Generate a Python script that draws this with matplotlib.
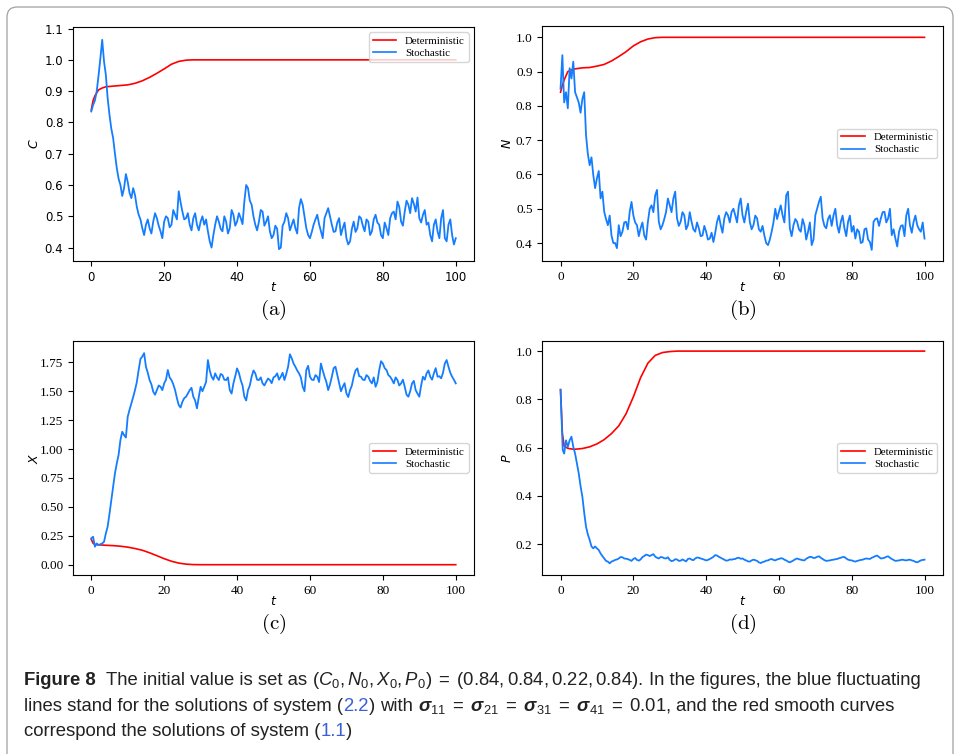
import matplotlib
matplotlib.use('Agg')
import matplotlib.pyplot as plt
from matplotlib.patches import FancyBboxPatch
from matplotlib.transforms import IdentityTransform

# deterministic solutions (system 1.1)
t_det = [0, 0.5, 1, 2, 3, 4, 6, 8, 10, 12, 14, 16, 18, 20, 22, 24, 26, 28, 30, 32, 40, 60, 80, 100]
C_det = [0.84, 0.87, 0.885, 0.904, 0.91, 0.914, 0.916, 0.918, 0.92, 0.925, 0.933, 0.944,
         0.957, 0.971, 0.986, 0.995, 0.999, 1.0, 1.0, 1.0, 1.0, 1.0, 1.0, 1.0]
N_det = [0.84, 0.86, 0.876, 0.90, 0.905, 0.908, 0.911, 0.912, 0.916, 0.921, 0.931, 0.944,
         0.958, 0.975, 0.987, 0.995, 0.999, 1.0, 1.0, 1.0, 1.0, 1.0, 1.0, 1.0]
X_det = [0.22, 0.185, 0.175, 0.172, 0.17, 0.168, 0.165, 0.16, 0.152, 0.14, 0.125, 0.103,
         0.078, 0.052, 0.03, 0.014, 0.005, 0.001, 0.0, 0.0, 0.0, 0.0, 0.0, 0.0]
P_det = [0.84, 0.66, 0.605, 0.597, 0.594, 0.593, 0.596, 0.603, 0.615, 0.633, 0.658, 0.69,
         0.74, 0.81, 0.89, 0.95, 0.982, 0.994, 0.998, 1.0, 1.0, 1.0, 1.0, 1.0]

# stochastic solutions (system 2.2): first seconds, then whole and half time steps
t_C_early = [0, 0.5, 1, 1.5, 2, 2.5, 3, 3.5, 4, 4.5]
C_early = [0.835, 0.856, 0.87, 0.90, 0.95, 1.005, 1.064, 0.995, 0.952, 0.877]
C_whole = [0.824, 0.75, 0.654, 0.60, 0.59, 0.61, 0.558, 0.568, 0.505, 0.462,
           0.473, 0.462, 0.483, 0.494, 0.452, 0.483, 0.494, 0.473, 0.505, 0.58,
           0.515, 0.494, 0.473, 0.494, 0.473, 0.483, 0.473, 0.452, 0.40, 0.473,
           0.483, 0.452, 0.483, 0.462, 0.505, 0.483, 0.494, 0.547, 0.59, 0.537,
           0.473, 0.483, 0.515, 0.483, 0.452, 0.44, 0.46, 0.40, 0.483, 0.494,
           0.473, 0.462, 0.526, 0.537, 0.462, 0.43, 0.473, 0.505, 0.452, 0.494,
           0.526, 0.473, 0.452, 0.494, 0.462, 0.43, 0.42, 0.483, 0.462, 0.494,
           0.452, 0.483, 0.452, 0.505, 0.473, 0.43, 0.462, 0.494, 0.515, 0.547,
           0.483, 0.515, 0.537, 0.558, 0.515, 0.494, 0.505, 0.473, 0.44, 0.473,
           0.452, 0.494, 0.43, 0.473, 0.44, 0.43]
C_half = [0.78, 0.70, 0.62, 0.565, 0.635, 0.575, 0.59, 0.53, 0.49, 0.44,
          0.49, 0.445, 0.51, 0.47, 0.43, 0.50, 0.465, 0.52, 0.49, 0.545,
          0.49, 0.51, 0.455, 0.51, 0.455, 0.50, 0.49, 0.42, 0.44, 0.50,
          0.46, 0.50, 0.445, 0.52, 0.47, 0.51, 0.475, 0.60, 0.55, 0.50,
          0.455, 0.52, 0.47, 0.50, 0.43, 0.47, 0.395, 0.47, 0.51, 0.455,
          0.49, 0.445, 0.555, 0.50, 0.44, 0.45, 0.49, 0.475, 0.43, 0.51,
          0.50, 0.45, 0.48, 0.44, 0.48, 0.41, 0.46, 0.45, 0.50, 0.47,
          0.49, 0.44, 0.49, 0.48, 0.44, 0.48, 0.44, 0.51, 0.49, 0.53,
          0.47, 0.55, 0.51, 0.54, 0.56, 0.48, 0.52, 0.48, 0.42, 0.49,
          0.43, 0.52, 0.42, 0.49, 0.41]

t_N_early = [0, 0.5, 1, 1.5, 2, 2.5, 3, 3.5, 4]
N_early = [0.85, 0.948, 0.81, 0.84, 0.793, 0.91, 0.88, 0.929, 0.84]
N_whole = [0.81, 0.82, 0.715, 0.627, 0.598, 0.589, 0.53, 0.491, 0.452, 0.422,
           0.40, 0.452, 0.433, 0.462, 0.491, 0.481, 0.452, 0.443, 0.422, 0.462,
           0.51, 0.539, 0.462, 0.452, 0.491, 0.51, 0.53, 0.472, 0.462, 0.481,
           0.452, 0.462, 0.433, 0.443, 0.422, 0.433, 0.413, 0.403, 0.462, 0.452,
           0.472, 0.481, 0.491, 0.481, 0.51, 0.481, 0.491, 0.462, 0.452, 0.472,
           0.433, 0.422, 0.394, 0.433, 0.50, 0.491, 0.481, 0.539, 0.443, 0.452,
           0.462, 0.433, 0.452, 0.433, 0.394, 0.481, 0.52, 0.472, 0.443, 0.481,
           0.481, 0.452, 0.462, 0.443, 0.462, 0.433, 0.413, 0.433, 0.403, 0.443,
           0.403, 0.462, 0.472, 0.472, 0.491, 0.472, 0.423, 0.413, 0.433, 0.452,
           0.481, 0.452, 0.462, 0.452, 0.433, 0.413]
N_half = [0.78, 0.84, 0.66, 0.65, 0.56, 0.61, 0.55, 0.47, 0.48, 0.40,
          0.385, 0.42, 0.46, 0.44, 0.52, 0.46, 0.42, 0.46, 0.41, 0.50,
          0.49, 0.555, 0.44, 0.47, 0.53, 0.49, 0.55, 0.45, 0.49, 0.44,
          0.49, 0.44, 0.46, 0.42, 0.45, 0.41, 0.43, 0.43, 0.48, 0.43,
          0.49, 0.46, 0.50, 0.46, 0.53, 0.46, 0.515, 0.44, 0.48, 0.44,
          0.45, 0.40, 0.41, 0.46, 0.47, 0.51, 0.46, 0.55, 0.42, 0.47,
          0.44, 0.47, 0.41, 0.46, 0.41, 0.50, 0.535, 0.45, 0.47, 0.45,
          0.50, 0.43, 0.48, 0.42, 0.48, 0.45, 0.44, 0.40, 0.44, 0.41,
          0.38, 0.47, 0.45, 0.49, 0.46, 0.50, 0.44, 0.39, 0.45, 0.42,
          0.50, 0.43, 0.48, 0.44, 0.46]

t_X_early = [0, 0.5, 1, 1.5, 2, 3, 3.5]
X_early = [0.228, 0.242, 0.156, 0.184, 0.17, 0.184, 0.198]
X_whole = [0.27, 0.44, 0.675, 0.876, 1.078, 1.121, 1.28, 1.395, 1.51, 1.684,
           1.80, 1.712, 1.597, 1.496, 1.51, 1.539, 1.568, 1.684, 1.597, 1.51,
           1.38, 1.409, 1.453, 1.51, 1.453, 1.352, 1.539, 1.539, 1.77, 1.626,
           1.655, 1.597, 1.64, 1.597, 1.51, 1.568, 1.698, 1.597, 1.453, 1.51,
           1.626, 1.655, 1.597, 1.568, 1.583, 1.597, 1.62, 1.655, 1.626, 1.597,
           1.712, 1.785, 1.712, 1.655, 1.539, 1.684, 1.626, 1.597, 1.626, 1.74,
           1.626, 1.51, 1.626, 1.712, 1.568, 1.539, 1.482, 1.51, 1.626, 1.698,
           1.626, 1.597, 1.626, 1.568, 1.539, 1.684, 1.74, 1.684, 1.626, 1.568,
           1.597, 1.568, 1.539, 1.453, 1.568, 1.51, 1.453, 1.626, 1.655, 1.626,
           1.655, 1.626, 1.612, 1.74, 1.712, 1.626, 1.568]
X_half = [0.33, 0.56, 0.79, 0.95, 1.15, 1.10, 1.34, 1.45, 1.58, 1.78,
          1.83, 1.66, 1.56, 1.47, 1.55, 1.51, 1.60, 1.62, 1.56, 1.44,
          1.36, 1.44, 1.48, 1.53, 1.42, 1.45, 1.50, 1.58, 1.68, 1.60,
          1.62, 1.65, 1.60, 1.62, 1.48, 1.63, 1.66, 1.55, 1.42, 1.55,
          1.68, 1.60, 1.62, 1.55, 1.61, 1.57, 1.63, 1.60, 1.66, 1.65,
          1.82, 1.74, 1.68, 1.62, 1.50, 1.72, 1.60, 1.64, 1.58, 1.68,
          1.58, 1.56, 1.70, 1.64, 1.50, 1.57, 1.45, 1.55, 1.68, 1.63,
          1.60, 1.64, 1.59, 1.62, 1.58, 1.76, 1.70, 1.64, 1.60, 1.62,
          1.55, 1.60, 1.47, 1.50, 1.59, 1.48, 1.55, 1.60, 1.68, 1.60,
          1.70, 1.63, 1.66, 1.77, 1.66, 1.60]

t_P_early = [0, 0.3, 0.6, 1, 1.5, 2, 2.5, 3, 3.5, 4]
P_early = [0.84, 0.72, 0.59, 0.575, 0.63, 0.603, 0.63, 0.645, 0.603, 0.575]
P_whole = [0.493, 0.396, 0.272, 0.217, 0.182, 0.182, 0.161, 0.14, 0.127, 0.127,
           0.134, 0.14, 0.145, 0.139, 0.134, 0.138, 0.134, 0.136, 0.15, 0.154,
           0.154, 0.148, 0.14, 0.145, 0.14, 0.134, 0.131, 0.136, 0.131, 0.132,
           0.138, 0.135, 0.14, 0.143, 0.138, 0.132, 0.138, 0.147, 0.152, 0.143,
           0.135, 0.132, 0.135, 0.138, 0.143, 0.14, 0.132, 0.127, 0.135, 0.13,
           0.121, 0.127, 0.132, 0.138, 0.132, 0.138, 0.14, 0.132, 0.124, 0.132,
           0.14, 0.135, 0.132, 0.143, 0.146, 0.143, 0.149, 0.138, 0.13, 0.132,
           0.135, 0.138, 0.143, 0.146, 0.135, 0.132, 0.127, 0.132, 0.135, 0.14,
           0.138, 0.146, 0.152, 0.14, 0.143, 0.149, 0.138, 0.13, 0.132, 0.135,
           0.132, 0.135, 0.13, 0.124, 0.132, 0.135]
P_half = [0.44, 0.33, 0.24, 0.19, 0.19, 0.175, 0.15, 0.13, 0.12, 0.13,
          0.136, 0.146, 0.14, 0.137, 0.13, 0.142, 0.131, 0.146, 0.156, 0.15,
          0.158, 0.143, 0.146, 0.141, 0.145, 0.129, 0.137, 0.13, 0.136, 0.128,
          0.14, 0.133, 0.144, 0.14, 0.135, 0.134, 0.142, 0.154, 0.147, 0.139,
          0.131, 0.136, 0.137, 0.142, 0.139, 0.135, 0.128, 0.132, 0.133, 0.124,
          0.125, 0.131, 0.136, 0.134, 0.136, 0.141, 0.135, 0.127, 0.128, 0.137,
          0.137, 0.133, 0.139, 0.147, 0.142, 0.147, 0.143, 0.133, 0.131, 0.134,
          0.137, 0.141, 0.146, 0.14, 0.133, 0.129, 0.13, 0.134, 0.138, 0.139,
          0.143, 0.15, 0.146, 0.141, 0.147, 0.143, 0.134, 0.131, 0.134, 0.133,
          0.134, 0.132, 0.126, 0.128, 0.134]

x_ticks = [0, 20, 40, 60, 80, 100]


def path(t_early, v_early, start, whole, half):
    # put the early samples, whole steps and half steps in time order
    t = list(t_early) + list(range(start, 101)) + [k + 0.5 for k in range(start, 100)]
    v = list(v_early) + list(whole) + list(half)
    order = sorted(range(len(t)), key=lambda i: t[i])
    return [t[i] for i in order], [v[i] for i in order]


RED = '#ff0000'
BLUE = '#147dff'
SERIF = 'Liberation Serif'
CAP_FONT = ['Liberation Sans', 'DejaVu Sans']

plt.rcParams['mathtext.fontset'] = 'custom'
plt.rcParams['mathtext.rm'] = 'Liberation Sans'
plt.rcParams['mathtext.it'] = 'Liberation Sans:italic'
plt.rcParams['mathtext.bf'] = 'Liberation Sans:italic:bold'

fig = plt.figure(figsize=(9.56, 7.54), dpi=100)

# rounded frame round the whole figure
frame = FancyBboxPatch((7, -20), 946, 754 - 7 + 20, boxstyle='round,pad=0,rounding_size=10',
                       transform=IdentityTransform(), facecolor='none',
                       edgecolor='#a0a0a0', linewidth=0.9)
fig.patches.append(frame)

panels = [
    # rect, stochastic path, deterministic, ylabel, ylim, yticks, fmt, legend loc, tag, sans ticks
    ([0.0764, 0.6538, 0.4194, 0.3104], path(t_C_early, C_early, 5, C_whole, C_half), C_det,
     'C', (0.357, 1.105), [0.4, 0.5, 0.6, 0.7, 0.8, 0.9, 1.0, 1.1], '{:.1f}',
     'upper right', '(a)', True),
    ([0.5673, 0.6538, 0.4188, 0.3117], path(t_N_early, N_early, 5, N_whole, N_half), N_det,
     'N', (0.3475, 1.033), [0.4, 0.5, 0.6, 0.7, 0.8, 0.9, 1.0], '{:.1f}',
     'center right', '(b)', False),
    ([0.0764, 0.2374, 0.4194, 0.3107], path(t_X_early, X_early, 4, X_whole, X_half), X_det,
     'X', (-0.089, 1.937), [0.0, 0.25, 0.5, 0.75, 1.0, 1.25, 1.5, 1.75], '{:.2f}',
     'center right', '(c)', False),
    ([0.5673, 0.2374, 0.4188, 0.3107], path(t_P_early, P_early, 5, P_whole, P_half), P_det,
     'P', (0.0715, 1.043), [0.2, 0.4, 0.6, 0.8, 1.0], '{:.1f}',
     'center right', '(d)', False),
]

for rect, (ts, ys), yd, lab, ylim, yticks, fmt, loc, tag, sans in panels:
    ax = fig.add_axes(rect)
    ax.plot(t_det, yd, color=RED, lw=1.2, label='Deterministic')
    ax.plot(ts, ys, color=BLUE, lw=1.3, label='Stochastic')
    ax.set_xlim(-5, 105)
    ax.set_ylim(*ylim)
    ax.set_xticks(x_ticks)
    ax.set_yticks(yticks)
    tick_font = dict(family='DejaVu Sans', size=8.5) if sans else dict(family=SERIF, size=9.5)
    ax.set_xticklabels([str(v) for v in x_ticks], fontdict=tick_font)
    ax.set_yticklabels([fmt.format(v) for v in yticks], fontdict=tick_font)
    ax.set_xlabel('$t$', fontsize=9, math_fontfamily='dejavusans')
    ax.set_ylabel('$' + lab + '$', fontsize=9, math_fontfamily='dejavusans')
    ax.xaxis.set_label_coords(0.5, -0.085)
    ax.yaxis.set_label_coords(-0.08 if rect[0] < 0.5 else -0.071, 0.5)
    leg = ax.legend(loc=loc, prop=dict(family=SERIF, size=7.8), labelspacing=0.25,
                    borderpad=0.35, handlelength=2.2)
    for h in leg.get_lines():
        h.set_linewidth(1.2)
    x0 = rect[0] + rect[2] * 55 / 110
    fig.text(x0, rect[1] - 0.065, r'$\mathrm{' + tag + '}$', ha='center', va='center',
             fontsize=15, math_fontfamily='cm')

# caption, written run by run so the bold title and links keep their own style
renderer = fig.canvas.get_renderer()
CAP_SIZE = 13.3
space = fig.text(0, 0, 'a a', fontsize=CAP_SIZE, family=CAP_FONT)
solid = fig.text(0, 0, 'aa', fontsize=CAP_SIZE, family=CAP_FONT)
gap = space.get_window_extent(renderer).width - solid.get_window_extent(renderer).width
space.remove()
solid.remove()

LINK = '#3a5fd9'
lines = [
    (685, [('Figure 8', dict(weight='bold')), 'sp2',
           ('The initial value is set as', {}), 'sp',
           (r'$(C_0,N_0,X_0,P_0)\;=\;(0.84,0.84,0.22,0.84).$', {}), 'sp',
           ('In the figures, the blue fluctuating', {})]),
    (711, [('lines stand for the solutions of system (', {}), ('2.2', dict(color=LINK)),
           (')', {}), 'sp', ('with', {}), 'sp',
           (r'$\mathbf{\sigma}_{11}\;=\;\mathbf{\sigma}_{21}\;=\;\mathbf{\sigma}_{31}\;=\;'
            r'\mathbf{\sigma}_{41}\;=\;0.01,$', {}), 'sp',
           ('and the red smooth curves', {})]),
    (736, [('correspond the solutions of system (', {}), ('1.1', dict(color=LINK)),
           (')', {})]),
]
for ypix, runs in lines:
    x = 24
    for run in runs:
        if run == 'sp':
            x += gap
            continue
        if run == 'sp2':
            x += 2 * gap
            continue
        s, kw = run
        txt = fig.text(x, 754 - ypix, s, transform=IdentityTransform(), ha='left',
                       va='baseline', fontsize=CAP_SIZE, family=CAP_FONT,
                       color=kw.get('color', '#222222'), weight=kw.get('weight', 'normal'))
        x += txt.get_window_extent(renderer).width

fig.savefig('out.png', dpi=100)
